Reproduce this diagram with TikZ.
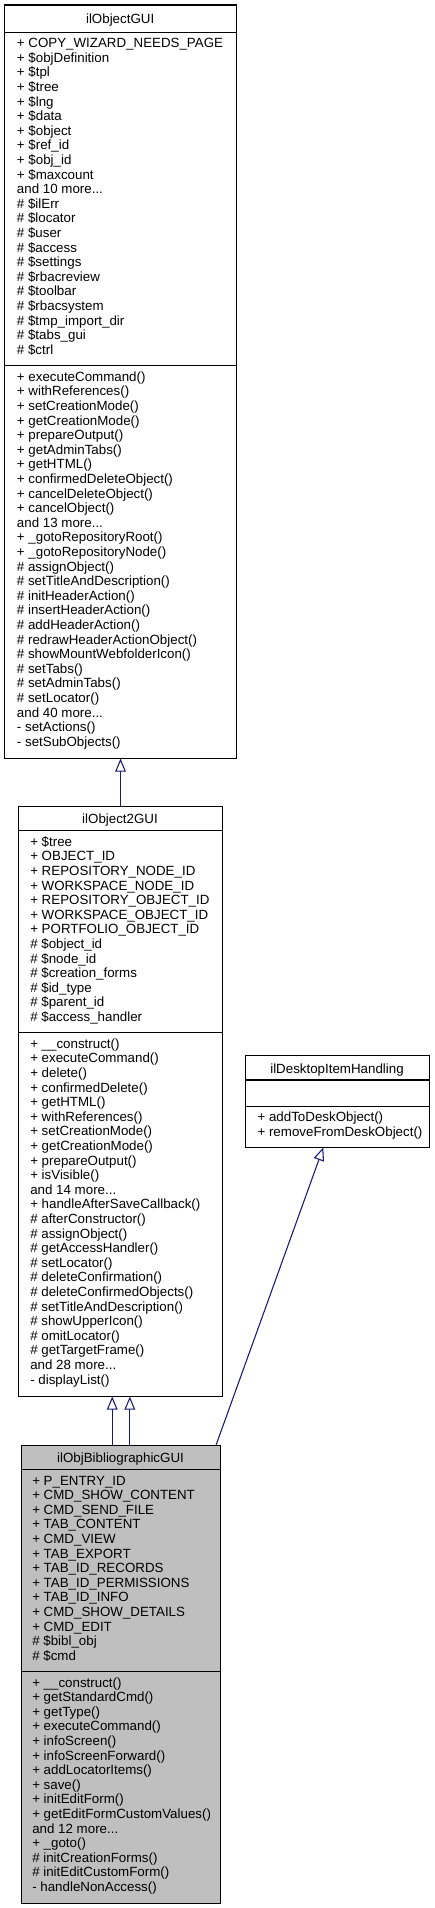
\documentclass[tikz,border=0pt]{standalone}
\usepackage{fontspec}
\setmainfont{Liberation Sans}
\usetikzlibrary{arrows.meta}
\definecolor{edgeblue}{HTML}{191970}
\definecolor{bibfill}{HTML}{BFBFBF}
\newcommand\mlist[1]{\begin{tabular}[t]{@{}l@{}}#1\end{tabular}}
\begin{document}
\begin{tikzpicture}[x=0.75pt,y=-0.75pt,
  classbox/.style={draw=black, line width=0.8pt, anchor=north west, inner sep=0},
  sepline/.style={draw=black, line width=0.8pt},
  ctitle/.style={anchor=base, inner sep=0, font=\fontsize{10}{10.95}\selectfont},
  members/.style={anchor=base west, inner sep=0, font=\fontsize{10}{10.95}\selectfont},
  inh/.style={draw=edgeblue, line width=0.8pt, -{Triangle[length=9.75pt,width=8pt,fill=white]}}]
\useasboundingbox (0,0) rectangle (435,1908);

% ---------- ilObjectGUI ----------
\node[classbox, minimum width=231.7*0.75pt, minimum height=753*0.75pt] (ogui) at (4.3,4.5) {};
\draw[sepline] (4.3,32.3) -- (236,32.3);
\draw[sepline] (4.3,365.8) -- (236,365.8);
\node[ctitle] (ogui-n) at (120.15,23.2) {ilObjectGUI};
\node[members] (ogui-a) at (16.7,47.8) {\mlist{%
+ COPY\_WIZARD\_NEEDS\_PAGE\\
+ \$objDefinition\\
+ \$tpl\\
+ \$tree\\
+ \$lng\\
+ \$data\\
+ \$object\\
+ \$ref\_id\\
+ \$obj\_id\\
+ \$maxcount\\
and 10 more...\\
\# \$ilErr\\
\# \$locator\\
\# \$user\\
\# \$access\\
\# \$settings\\
\# \$rbacreview\\
\# \$toolbar\\
\# \$rbacsystem\\
\# \$tmp\_import\_dir\\
\# \$tabs\_gui\\
\# \$ctrl}};
\node[members] (ogui-m) at (16.7,381.3) {\mlist{%
+ executeCommand()\\
+ withReferences()\\
+ setCreationMode()\\
+ getCreationMode()\\
+ prepareOutput()\\
+ getAdminTabs()\\
+ getHTML()\\
+ confirmedDeleteObject()\\
+ cancelDeleteObject()\\
+ cancelObject()\\
and 13 more...\\
+ \_gotoRepositoryRoot()\\
+ \_gotoRepositoryNode()\\
\# assignObject()\\
\# setTitleAndDescription()\\
\# initHeaderAction()\\
\# insertHeaderAction()\\
\# addHeaderAction()\\
\# redrawHeaderActionObject()\\
\# showMountWebfolderIcon()\\
\# setTabs()\\
\# setAdminTabs()\\
\# setLocator()\\
and 40 more...\\
- setActions()\\
- setSubObjects()}};

% ---------- ilObject2GUI ----------
\node[classbox, minimum width=203.4*0.75pt, minimum height=589.8*0.75pt] (o2) at (18.3,805.7) {};
\draw[sepline] (18.3,830.7) -- (221.7,830.7);
\draw[sepline] (18.3,1032.8) -- (221.7,1032.8);
\node[ctitle] (o2-n) at (120,823) {ilObject2GUI};
\node[members] (o2-a) at (30,846.2) {\mlist{%
+ \$tree\\
+ OBJECT\_ID\\
+ REPOSITORY\_NODE\_ID\\
+ WORKSPACE\_NODE\_ID\\
+ REPOSITORY\_OBJECT\_ID\\
+ WORKSPACE\_OBJECT\_ID\\
+ PORTFOLIO\_OBJECT\_ID\\
\# \$object\_id\\
\# \$node\_id\\
\# \$creation\_forms\\
\# \$id\_type\\
\# \$parent\_id\\
\# \$access\_handler}};
\node[members] (o2-m) at (30,1048.3) {\mlist{%
+ \_\_construct()\\
+ executeCommand()\\
+ delete()\\
+ confirmedDelete()\\
+ getHTML()\\
+ withReferences()\\
+ setCreationMode()\\
+ getCreationMode()\\
+ prepareOutput()\\
+ isVisible()\\
and 14 more...\\
+ handleAfterSaveCallback()\\
\# afterConstructor()\\
\# assignObject()\\
\# getAccessHandler()\\
\# setLocator()\\
\# deleteConfirmation()\\
\# deleteConfirmedObjects()\\
\# setTitleAndDescription()\\
\# showUpperIcon()\\
\# omitLocator()\\
\# getTargetFrame()\\
and 28 more...\\
- displayList()}};

% ---------- ilDesktopItemHandling ----------
\node[classbox, minimum width=184*0.75pt, minimum height=91.5*0.75pt] (desk) at (245,1055) {};
\draw[sepline] (245,1080) -- (429,1080);
\draw[sepline] (245,1106.7) -- (429,1106.7);
\node[ctitle] (desk-n) at (337,1073) {ilDesktopItemHandling};
\node[members] (desk-m) at (257.3,1121.5) {\mlist{%
+ addToDeskObject()\\
+ removeFromDeskObject()}};

% ---------- ilObjBibliographicGUI ----------
\node[classbox, fill=bibfill, minimum width=199*0.75pt, minimum height=457.5*0.75pt] (bib) at (21,1445) {};
\draw[sepline] (21,1469.5) -- (220,1469.5);
\draw[sepline] (21,1671.6) -- (220,1671.6);
\node[ctitle] (bib-n) at (120.5,1462) {ilObjBibliographicGUI};
\node[members] (bib-a) at (32,1485) {\mlist{%
+ P\_ENTRY\_ID\\
+ CMD\_SHOW\_CONTENT\\
+ CMD\_SEND\_FILE\\
+ TAB\_CONTENT\\
+ CMD\_VIEW\\
+ TAB\_EXPORT\\
+ TAB\_ID\_RECORDS\\
+ TAB\_ID\_PERMISSIONS\\
+ TAB\_ID\_INFO\\
+ CMD\_SHOW\_DETAILS\\
+ CMD\_EDIT\\
\# \$bibl\_obj\\
\# \$cmd}};
\node[members] (bib-m) at (32,1687.1) {\mlist{%
+ \_\_construct()\\
+ getStandardCmd()\\
+ getType()\\
+ executeCommand()\\
+ infoScreen()\\
+ infoScreenForward()\\
+ addLocatorItems()\\
+ save()\\
+ initEditForm()\\
+ getEditFormCustomValues()\\
and 12 more...\\
+ \_goto()\\
\# initCreationForms()\\
\# initEditCustomForm()\\
- handleNonAccess()}};

% ---------- inheritance connectors ----------
\draw[inh] (o2.north) -- (o2.north |- ogui.south);
\coordinate (b1) at ([xshift=-6.6pt]bib.north);
\coordinate (b2) at ([xshift=6.6pt]bib.north);
\draw[inh] (b1) -- (b1 |- o2.south);
\draw[inh] (b2) -- (b2 |- o2.south);
\coordinate (b3) at ([xshift=-3.75pt]bib.north east);
\coordinate (d1) at ([xshift=-10.7pt]desk.south);
\draw[inh] (b3) -- (d1);
\end{tikzpicture}
\end{document}
